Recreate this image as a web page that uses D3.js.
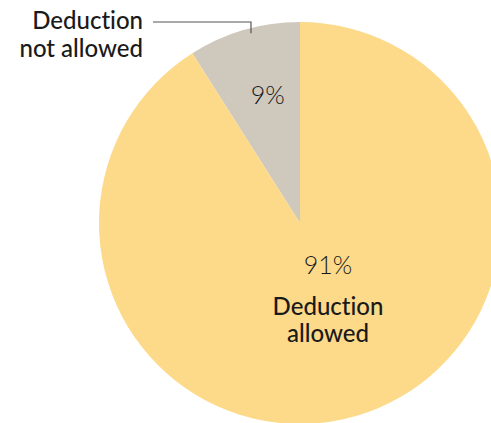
<!DOCTYPE html>
<html>
<head>
<meta charset="utf-8">
<script src="https://cdn.jsdelivr.net/npm/d3@7"></script>
<style>
  html, body { margin: 0; padding: 0; background: #fff; }
  svg { display: block; }
  text { font-family: Lato, "Open Sans", sans-serif; fill: #1a1a1a; font-variant-ligatures: none; font-feature-settings: "liga" 0; }
</style>
</head>
<body>
<svg id="chart" width="491" height="423"></svg>
<script>
// Share of cases by outcome
const categories = ["Deduction not allowed", "Deduction allowed"];
const values = [9, 91];
const colors = ["#CFC8BD", "#FDDA8A"];
const valueLabels = ["9%", "91%"];

const width = 491, height = 423;
const cx = 300, cy = 223, radius = 201;

const svg = d3.select("#chart");
const g = svg.append("g").attr("transform", `translate(${cx},${cy})`);

// Small slice runs counter-clockwise from 12 o'clock
const pie = d3.pie().sort(null).value(d => d.value)
  .startAngle(0).endAngle(-2 * Math.PI);
const data = categories.map((c, i) => ({ name: c, value: values[i], color: colors[i], label: valueLabels[i] }));
const arcs = pie(data);

const arc = d3.arc().innerRadius(0).outerRadius(radius);

g.selectAll("path.slice").data(arcs).enter().append("path")
  .attr("class", "slice")
  .attr("d", arc)
  .attr("fill", d => d.data.color);

// Percent label inside the small slice
const p0 = d3.arc().innerRadius(radius * 0.61).outerRadius(radius * 0.61).centroid(arcs[0]);
g.append("text")
  .attr("x", p0[0] + 2).attr("y", p0[1] - 1)
  .attr("text-anchor", "middle")
  .attr("font-size", 25).attr("font-weight", 300)
  .text(arcs[0].data.label);

// Percent and name inside the large slice
g.append("text")
  .attr("x", 28).attr("y", 51)
  .attr("text-anchor", "middle")
  .attr("font-size", 25).attr("font-weight", 300)
  .text(arcs[1].data.label);

const inside = g.append("text")
  .attr("text-anchor", "middle")
  .attr("font-size", 24).attr("font-weight", 500);
inside.append("tspan").attr("x", 28).attr("y", 92).text("Deduction");
inside.append("tspan").attr("x", 28).attr("y", 119).text("allowed");

// Callout for the small slice
const outer = svg.append("text")
  .attr("text-anchor", "end")
  .attr("font-size", 24).attr("font-weight", 500);
outer.append("tspan").attr("x", 143).attr("y", 29).text("Deduction");
outer.append("tspan").attr("x", 143).attr("y", 57).text("not allowed");

const leaderAngle = (arcs[0].startAngle + arcs[0].endAngle) / 2 + 0.03;
const tip = [cx + Math.sin(leaderAngle) * (radius - 5), cy - Math.cos(leaderAngle) * (radius - 5)];
svg.append("path")
  .attr("d", d3.line()([[153, 22], [tip[0], 22], [tip[0], tip[1]]]))
  .attr("fill", "none")
  .attr("stroke", "#555")
  .attr("stroke-width", 1.2);
</script>
</body>
</html>
